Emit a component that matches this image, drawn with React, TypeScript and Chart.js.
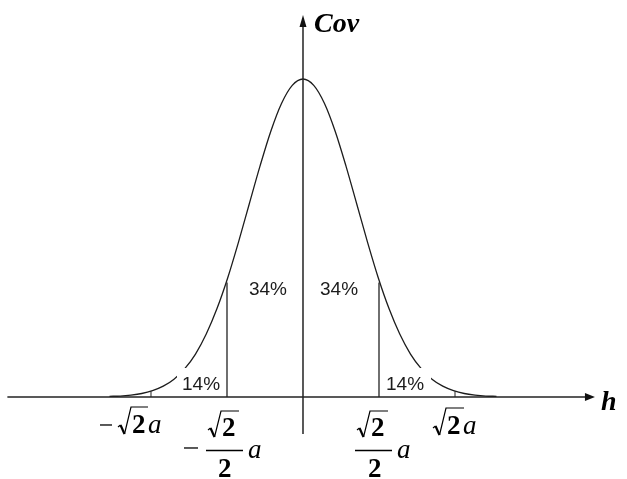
import { useEffect, useRef } from "react";
import { Chart, registerables } from "chart.js";

Chart.register(...registerables);

// Lag h, in units of the range parameter a
const lagValues = [
  -1.8, -1.7, -1.6, -1.5, -1.4, -1.3, -1.2, -1.1, -1.0, -0.9, -0.8, -0.7, -0.6,
  -0.5, -0.4, -0.3, -0.2, -0.1, 0, 0.1, 0.2, 0.3, 0.4, 0.5, 0.6, 0.7, 0.8, 0.9,
  1.0, 1.1, 1.2, 1.3, 1.4, 1.5, 1.6, 1.7, 1.8,
];

// Covariance, relative to its value at h = 0
const covValues = [
  0.002, 0.003, 0.006, 0.011, 0.02, 0.034, 0.056, 0.089, 0.135, 0.198, 0.278,
  0.375, 0.487, 0.607, 0.726, 0.835, 0.923, 0.98, 1.0, 0.98, 0.923, 0.835,
  0.726, 0.607, 0.487, 0.375, 0.278, 0.198, 0.135, 0.089, 0.056, 0.034, 0.02,
  0.011, 0.006, 0.003, 0.002,
];

// Marked lags: √2/2·a and √2·a, with the covariance reached there
const halfLag = 0.707;
const fullLag = 1.414;
const covAtHalf = 0.36;
const covAtFull = 0.018;

// Shares of the area under the curve
const innerShare = "34%";
const outerShare = "14%";

const axisTitleY = "Cov";
const axisTitleX = "h";

const INK = "#1c1c1c";
const SERIF = '"Liberation Serif", "Times New Roman", serif';
const SANS = '"Liberation Sans", Arial, sans-serif';

function drawRootTwo(ctx: CanvasRenderingContext2D, x0: number, b: number, barEnd: number, top: number) {
  ctx.save();
  ctx.strokeStyle = "#000";
  ctx.lineJoin = "miter";
  ctx.lineWidth = 1.2;
  ctx.beginPath();
  ctx.moveTo(x0, b - 6);
  ctx.lineTo(x0 + 2.5, b - 8);
  ctx.stroke();
  ctx.lineWidth = 2.2;
  ctx.beginPath();
  ctx.moveTo(x0 + 2.5, b - 8);
  ctx.lineTo(x0 + 6.5, b + 1);
  ctx.stroke();
  ctx.lineWidth = 1.2;
  ctx.beginPath();
  ctx.moveTo(x0 + 6.5, b + 1);
  ctx.lineTo(x0 + 13, b - top);
  ctx.lineTo(x0 + barEnd, b - top);
  ctx.stroke();
  ctx.fillStyle = "#000";
  ctx.font = `bold 27px ${SERIF}`;
  ctx.textAlign = "left";
  ctx.fillText("2", x0 + 14, b);
  ctx.restore();
}

function hLine(ctx: CanvasRenderingContext2D, x1: number, x2: number, yy: number, w = 1.3) {
  ctx.save();
  ctx.strokeStyle = "#000";
  ctx.lineWidth = w;
  ctx.beginPath();
  ctx.moveTo(x1, yy);
  ctx.lineTo(x2, yy);
  ctx.stroke();
  ctx.restore();
}

function italicA(ctx: CanvasRenderingContext2D, x0: number, b: number) {
  ctx.save();
  ctx.fillStyle = "#000";
  ctx.font = `italic 27px ${SERIF}`;
  ctx.textAlign = "left";
  ctx.fillText("a", x0, b);
  ctx.restore();
}

const annotations = {
  id: "annotations",
  afterDatasetsDraw(chart: any) {
    const { ctx } = chart;
    const xs = chart.scales.x;
    const ys = chart.scales.y;
    const px = (v: number) => xs.getPixelForValue(v);
    const py = (v: number) => ys.getPixelForValue(v);
    const ox = px(0);
    const oy = py(0);

    ctx.save();

    // percentage labels; the outer ones sit on a white patch over the curve
    ctx.font = `19px ${SANS}`;
    ctx.fillStyle = INK;
    ctx.textBaseline = "alphabetic";
    const outer = [
      { x: px(-halfLag) - 45, pad: [5, 4] },
      { x: px(halfLag) + 7, pad: [4, 7] },
    ];
    const ow = ctx.measureText(outerShare).width;
    for (const o of outer) {
      ctx.fillStyle = "#fff";
      ctx.fillRect(o.x - o.pad[0], oy - 29, ow + o.pad[0] + o.pad[1], 25);
      ctx.fillStyle = INK;
      ctx.textAlign = "left";
      ctx.fillText(outerShare, o.x, oy - 7);
    }
    ctx.textAlign = "right";
    ctx.fillText(innerShare, ox - 16, oy - 102);
    ctx.textAlign = "left";
    ctx.fillText(innerShare, ox + 17, oy - 102);

    // axes with arrow heads
    ctx.strokeStyle = "#222";
    ctx.fillStyle = "#111";
    ctx.lineWidth = 1.5;
    const xStart = px(-2.75);
    const xTip = px(2.716);
    ctx.beginPath();
    ctx.moveTo(xStart, oy);
    ctx.lineTo(xTip - 6, oy);
    ctx.stroke();
    ctx.beginPath();
    ctx.moveTo(xTip, oy);
    ctx.lineTo(xTip - 10, oy - 4);
    ctx.lineTo(xTip - 10, oy + 4);
    ctx.closePath();
    ctx.fill();

    const yBottom = py(-0.116);
    const yTip = py(1.201);
    ctx.beginPath();
    ctx.moveTo(ox, yBottom);
    ctx.lineTo(ox, yTip + 6);
    ctx.stroke();
    ctx.beginPath();
    ctx.moveTo(ox, yTip);
    ctx.lineTo(ox - 3.5, yTip + 12);
    ctx.lineTo(ox + 3.5, yTip + 12);
    ctx.closePath();
    ctx.fill();

    // axis titles
    ctx.fillStyle = "#000";
    ctx.font = `bold italic 28px ${SERIF}`;
    ctx.textAlign = "left";
    ctx.fillText(axisTitleY, ox + 11, yTip + 17);
    ctx.fillText(axisTitleX, xTip + 6, oy + 13);

    // lag labels
    const fL = px(-fullLag);
    const fR = px(fullLag);
    const tL = px(-halfLag);
    const tR = px(halfLag);

    // −√2 a
    hLine(ctx, fL - 51, fL - 39, oy + 28);
    drawRootTwo(ctx, fL - 33, oy + 36, 30, 26);
    italicA(ctx, fL - 3, oy + 36);

    // √2 a
    drawRootTwo(ctx, fR - 22, oy + 37, 31, 26);
    italicA(ctx, fR + 8, oy + 37);

    // −(√2/2) a
    hLine(ctx, tL - 43, tL - 29, oy + 51);
    hLine(ctx, tL - 21, tL + 16, oy + 53.5);
    drawRootTwo(ctx, tL - 19, oy + 39, 31, 25);
    ctx.fillStyle = "#000";
    ctx.font = `bold 27px ${SERIF}`;
    ctx.textAlign = "left";
    ctx.fillText("2", tL - 9, oy + 80);
    italicA(ctx, tL + 21, oy + 61);

    // (√2/2) a
    hLine(ctx, tR - 24, tR + 13, oy + 53.5);
    drawRootTwo(ctx, tR - 22, oy + 39, 31, 25);
    ctx.fillStyle = "#000";
    ctx.font = `bold 27px ${SERIF}`;
    ctx.fillText("2", tR - 11, oy + 80);
    italicA(ctx, tR + 18, oy + 61);

    ctx.restore();
  },
};

export default function App() {
  const canvasRef = useRef<HTMLCanvasElement | null>(null);

  useEffect(() => {
    const canvas = canvasRef.current;
    if (!canvas) return;

    const curve = lagValues.map((h, i) => ({ x: h, y: covValues[i] }));
    const stem = (h: number, top: number) => [
      { x: h, y: 0 },
      { x: h, y: top },
    ];
    const guideStyle = {
      showLine: true,
      borderColor: "#222",
      borderWidth: 1.3,
      pointRadius: 0,
      fill: false,
    };

    const chart = new Chart(canvas, {
      type: "scatter",
      data: {
        datasets: [
          {
            label: "Cov(h)",
            data: curve,
            showLine: true,
            borderColor: INK,
            borderWidth: 1.3,
            pointRadius: 0,
            cubicInterpolationMode: "monotone",
            fill: false,
          },
          { label: "-half", data: stem(-halfLag, covAtHalf), ...guideStyle },
          { label: "half", data: stem(halfLag, covAtHalf), ...guideStyle },
          { label: "-full", data: stem(-fullLag, covAtFull), ...guideStyle, borderWidth: 1 },
          { label: "full", data: stem(fullLag, covAtFull), ...guideStyle, borderWidth: 1 },
        ],
      },
      options: {
        responsive: false,
        animation: false,
        devicePixelRatio: 1,
        layout: { padding: 0 },
        plugins: {
          legend: { display: false },
          tooltip: { enabled: false },
        },
        scales: {
          x: { type: "linear", display: false, min: -2.8186, max: 3.014 },
          y: { type: "linear", display: false, min: -0.2579, max: 1.2484 },
        },
      },
      plugins: [annotations],
    });

    return () => chart.destroy();
  }, []);

  return (
    <div style={{ position: "fixed", left: 0, top: 0, width: 627, height: 479, background: "#fff" }}>
      <canvas ref={canvasRef} width={627} height={479} style={{ display: "block" }} />
    </div>
  );
}
